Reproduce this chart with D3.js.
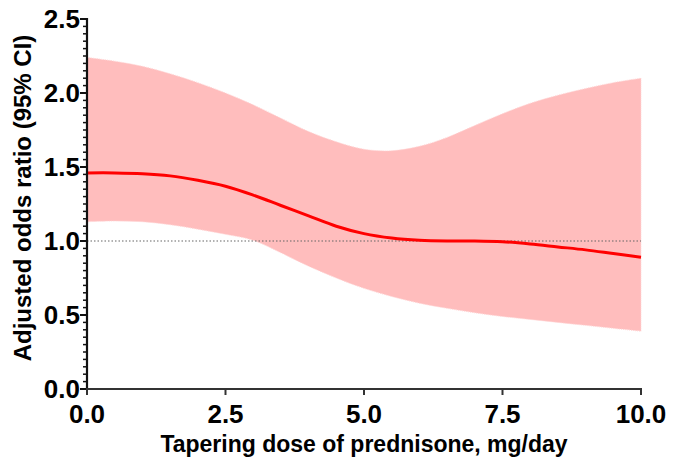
<!DOCTYPE html>
<html>
<head>
<meta charset="utf-8">
<script src="https://cdn.jsdelivr.net/npm/d3@7"></script>
<style>
  body { margin: 0; background: #fff; }
  text { font-family: "Liberation Sans", Arial, sans-serif; font-weight: bold; }
</style>
</head>
<body>
<svg width="673" height="460"></svg>
<script>
// dose (mg/day)
const dose = [0, 0.5, 1, 1.5, 2, 2.5, 3, 3.5, 4, 4.5, 5, 5.5, 6, 6.5, 7, 7.5, 8, 8.5, 9, 9.5, 10];
// adjusted odds ratio, with 95% CI
const oddsRatio = [1.46, 1.46, 1.455, 1.44, 1.41, 1.37, 1.31, 1.24, 1.17, 1.1, 1.05, 1.02, 1.005, 1.0, 1.0, 0.995, 0.98, 0.96, 0.94, 0.915, 0.89];
const upperCI = [2.24, 2.215, 2.18, 2.13, 2.07, 2.0, 1.92, 1.83, 1.74, 1.67, 1.62, 1.61, 1.64, 1.7, 1.78, 1.86, 1.93, 1.985, 2.03, 2.07, 2.1];
const lowerCI = [1.13, 1.135, 1.13, 1.11, 1.08, 1.045, 1.005, 0.92, 0.83, 0.75, 0.68, 0.625, 0.58, 0.545, 0.515, 0.49, 0.47, 0.45, 0.43, 0.41, 0.39];
const xTicks = [0, 2.5, 5, 7.5, 10];
const yTicks = [0, 0.5, 1, 1.5, 2, 2.5];

const svg = d3.select("svg");
const x = d3.scaleLinear().domain([0, 10]).range([87, 641]);
const y = d3.scaleLinear().domain([0, 2.5]).range([389, 19]);

const data = dose.map((d, i) => ({ x: d, or: oddsRatio[i], lo: lowerCI[i], hi: upperCI[i] }));

// confidence band
svg.append("path")
  .datum(data)
  .attr("fill", "#ffbdbd")
  .attr("stroke", "#ffd6d6")
  .attr("stroke-width", 1)
  .attr("stroke-dasharray", "1,1")
  .attr("d", d3.area()
    .x(d => x(d.x))
    .y0(d => y(d.lo))
    .y1(d => y(d.hi))
    .curve(d3.curveCatmullRom));

// reference line at OR = 1
svg.append("line")
  .attr("x1", x(0)).attr("x2", x(10))
  .attr("y1", y(1)).attr("y2", y(1))
  .attr("stroke", "#666")
  .attr("stroke-width", 1.2)
  .attr("stroke-dasharray", "1.5,2");

// odds ratio line
svg.append("path")
  .datum(data)
  .attr("fill", "none")
  .attr("stroke", "#ff0000")
  .attr("stroke-width", 3)
  .attr("d", d3.line()
    .x(d => x(d.x))
    .y(d => y(d.or))
    .curve(d3.curveCatmullRom));

// y axis: minor ticks every 0.05
const yAxis = svg.append("g");
yAxis.selectAll("line.minor")
  .data(d3.range(0, 51).map(i => i * 0.05))
  .enter().append("line")
  .attr("x1", 83).attr("x2", 87)
  .attr("y1", d => y(d)).attr("y2", d => y(d))
  .attr("stroke", "#111").attr("stroke-width", 1.5);
yAxis.selectAll("line.major")
  .data(yTicks)
  .enter().append("line")
  .attr("x1", 80).attr("x2", 87)
  .attr("y1", d => y(d)).attr("y2", d => y(d))
  .attr("stroke", "#111").attr("stroke-width", 2);
yAxis.append("line")
  .attr("x1", 87).attr("x2", 87)
  .attr("y1", y(0) + 1).attr("y2", y(2.5) - 1)
  .attr("stroke", "#111").attr("stroke-width", 2.2);
yAxis.selectAll("text")
  .data(yTicks)
  .enter().append("text")
  .attr("x", 80)
  .attr("y", d => y(d))
  .attr("dy", "0.36em")
  .attr("text-anchor", "end")
  .attr("font-size", "26px")
  .text(d => d.toFixed(1));

// x axis
const xAxis = svg.append("g");
xAxis.append("line")
  .attr("x1", 86).attr("x2", x(10) + 1)
  .attr("y1", y(0)).attr("y2", y(0))
  .attr("stroke", "#333").attr("stroke-width", 2.2);
xAxis.selectAll("line.tick")
  .data(xTicks)
  .enter().append("line")
  .attr("x1", d => x(d)).attr("x2", d => x(d))
  .attr("y1", y(0)).attr("y2", y(0) + 6)
  .attr("stroke", "#333").attr("stroke-width", 2);
xAxis.selectAll("text")
  .data(xTicks)
  .enter().append("text")
  .attr("x", d => x(d))
  .attr("y", 423)
  .attr("text-anchor", "middle")
  .attr("font-size", "26px")
  .text(d => d.toFixed(1));

// axis titles
svg.append("text")
  .attr("x", 364)
  .attr("y", 452)
  .attr("text-anchor", "middle")
  .attr("font-size", "23px")
  .text("Tapering dose of prednisone, mg/day");

svg.append("text")
  .attr("transform", "translate(31,198)rotate(-90)")
  .attr("text-anchor", "middle")
  .attr("font-size", "24px")
  .text("Adjusted odds ratio (95% CI)");
</script>
</body>
</html>
